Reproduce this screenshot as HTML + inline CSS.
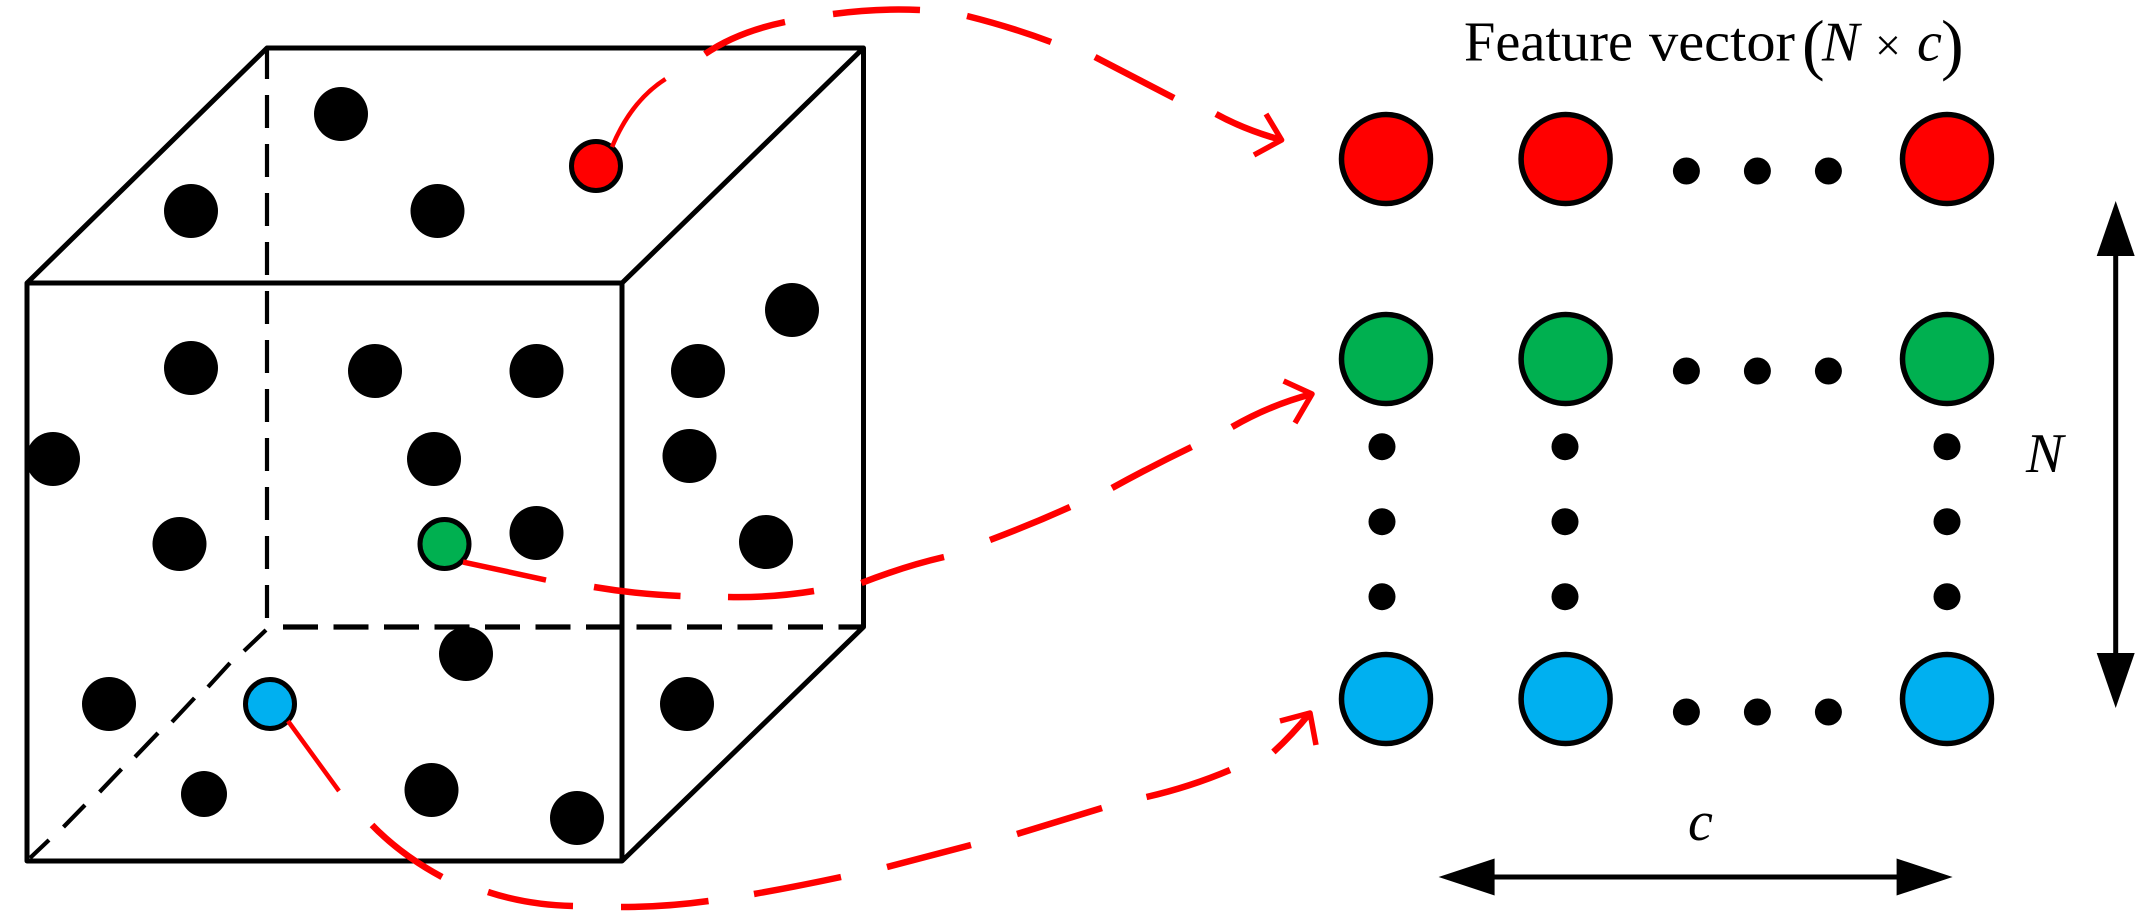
<!DOCTYPE html>
<html>
<head>
<meta charset="utf-8">
<style>
html,body{margin:0;padding:0;background:#fff;}
svg{display:block;}
text{font-family:"Liberation Serif",serif;fill:#000;}
</style>
</head>
<body>
<svg width="2140" height="919" viewBox="0 0 2140 919" xmlns="http://www.w3.org/2000/svg">
<rect width="2140" height="919" fill="#fff"/>
<!-- cube -->
<g fill="none" stroke="#000" stroke-width="5">
<path d="M27,283L267,48L863.5,48L622,283L27,283L27,861L622,861L622,283M863.5,48L863.5,627L622,861" stroke-linejoin="round"/>
<path d="M267,48V79M267,95V622" stroke-width="4.2" stroke-dasharray="33 16" />
<path d="M283,627H863" stroke-width="5.2" stroke-dasharray="35 15.5"/>
<path d="M266,630L244,651M230,663L208,687M194.5,698L172,722M158,733L135,757M121.5,769L99.6,792M85,805L63.5,827M49,840L30,858" stroke-width="4.2"/>
</g>
<!-- black dots in cube -->
<g fill="#000">
<circle cx="341" cy="114" r="27"/>
<circle cx="191" cy="211" r="27"/>
<circle cx="437.5" cy="211" r="27"/>
<circle cx="792" cy="310" r="27"/>
<circle cx="191" cy="368" r="27"/>
<circle cx="375" cy="371" r="27"/>
<circle cx="536.5" cy="371" r="27"/>
<circle cx="698" cy="371" r="27"/>
<circle cx="53" cy="459" r="27"/>
<circle cx="434" cy="459" r="27"/>
<circle cx="689.5" cy="456" r="27"/>
<circle cx="179.5" cy="544" r="27"/>
<circle cx="536.5" cy="533" r="27"/>
<circle cx="766" cy="542" r="27"/>
<circle cx="466" cy="654" r="27"/>
<circle cx="109" cy="704" r="27"/>
<circle cx="687" cy="704" r="27"/>
<circle cx="204" cy="794" r="23"/>
<circle cx="431.5" cy="790" r="27"/>
<circle cx="577" cy="818" r="27"/>
</g>
<!-- coloured nodes in cube -->
<g stroke="#000" stroke-width="5">
<circle cx="596" cy="166" r="24.5" fill="#ff0000"/>
<circle cx="444.5" cy="544" r="24.5" fill="#00b050"/>
<circle cx="270" cy="704" r="24.5" fill="#00b0f0"/>
</g>
<!-- red dashed curves -->
<g fill="none" stroke="#ff0000" stroke-width="6.5" stroke-linejoin="round">
<path d="M612,147Q631,101 665.5,79" stroke-width="4.5"/>
<path d="M705,54Q737,32 785,22"/>
<path d="M833,14Q877.5,8 920,10"/>
<path d="M967,16Q1011,27 1051,42"/>
<path d="M1095,57L1174,98"/>
<path d="M1216,114Q1245,130 1281.6,140"/>
<path d="M1266,114L1281.6,140L1254,155" stroke-width="5.5"/>

<path d="M463,562L546,580" stroke-width="5.5"/>
<path d="M594,587Q635,594 680.5,596"/>
<path d="M728,597Q771,598 814,591"/>
<path d="M861.4,583Q905,566 944,557"/>
<path d="M990,540Q1030,525 1070,507"/>
<path d="M1112,488Q1152,466 1191.5,447"/>
<path d="M1232,427Q1270,405 1312,394"/>
<path d="M1283.6,381L1312,394L1295,423" stroke-width="5.5"/>

<path d="M288,721L339,791" stroke-width="4.5"/>
<path d="M372,825Q401,855 442,877"/>
<path d="M488,892Q528,905 573,906"/>
<path d="M621,907Q666,907 708.5,901"/>
<path d="M754,894Q799,886 841,877"/>
<path d="M887,867L971,845"/>
<path d="M1017,834L1102,808"/>
<path d="M1146.5,797Q1190,787 1230,770"/>
<path d="M1273.4,752Q1292,735 1310,713"/>
<path d="M1280,721L1310,713L1316,745" stroke-width="5.5"/>
</g>
<!-- big nodes -->
<g stroke="#000" stroke-width="5.5">
<g fill="#ff0000">
<circle cx="1386" cy="159" r="44.5"/>
<circle cx="1565.6" cy="159" r="44.5"/>
<circle cx="1947" cy="159" r="44.5"/>
</g>
<g fill="#00b050">
<circle cx="1386" cy="359" r="44.5"/>
<circle cx="1565.6" cy="359" r="44.5"/>
<circle cx="1947" cy="359" r="44.5"/>
</g>
<g fill="#00b0f0">
<circle cx="1386" cy="699" r="44.5"/>
<circle cx="1565.6" cy="699" r="44.5"/>
<circle cx="1947" cy="699" r="44.5"/>
</g>
</g>
<!-- ellipsis dots -->
<g fill="#000">
<circle cx="1686.4" cy="171" r="13.5"/><circle cx="1757.4" cy="171" r="13.5"/><circle cx="1828.4" cy="171" r="13.5"/>
<circle cx="1686.4" cy="371" r="13.5"/><circle cx="1757.4" cy="371" r="13.5"/><circle cx="1828.4" cy="371" r="13.5"/>
<circle cx="1686.4" cy="712" r="13.5"/><circle cx="1757.4" cy="712" r="13.5"/><circle cx="1828.4" cy="712" r="13.5"/>
<circle cx="1382" cy="446.7" r="13.5"/><circle cx="1565" cy="446.7" r="13.5"/><circle cx="1947" cy="446.7" r="13.5"/>
<circle cx="1382" cy="521.7" r="13.5"/><circle cx="1565" cy="521.7" r="13.5"/><circle cx="1947" cy="521.7" r="13.5"/>
<circle cx="1382" cy="596.7" r="13.5"/><circle cx="1565" cy="596.7" r="13.5"/><circle cx="1947" cy="596.7" r="13.5"/>
</g>
<!-- dimension arrows -->
<g stroke="#000" stroke-width="5" fill="none">
<path d="M2115.7,250V660"/>
<path d="M1490,877H1900"/>
</g>
<g fill="#000">
<path d="M2115.7,201L2134.7,256H2096.7Z"/>
<path d="M2115.7,708L2134.7,653H2096.7Z"/>
<path d="M1438.6,877L1494.6,858.5V895.5Z"/>
<path d="M1952.6,877L1896.6,858.5V895.5Z"/>
</g>
<!-- labels -->
<text x="1464" y="60.7" font-size="56" textLength="169" lengthAdjust="spacingAndGlyphs">Feature</text>
<text x="1649" y="60.7" font-size="56" textLength="146" lengthAdjust="spacingAndGlyphs">vector</text>
<text x="1802" y="67" font-size="68">(</text>
<text x="1822" y="60.7" font-size="56" font-style="italic">N</text>
<text x="1875" y="60.7" font-size="46">×</text>
<text x="1917" y="60.7" font-size="56" font-style="italic">c</text>
<text x="1941" y="67" font-size="68">)</text>
<text x="2026" y="472" font-size="56" font-style="italic">N</text>
<text x="1688" y="840" font-size="56" font-style="italic">c</text>
</svg>
</body>
</html>
